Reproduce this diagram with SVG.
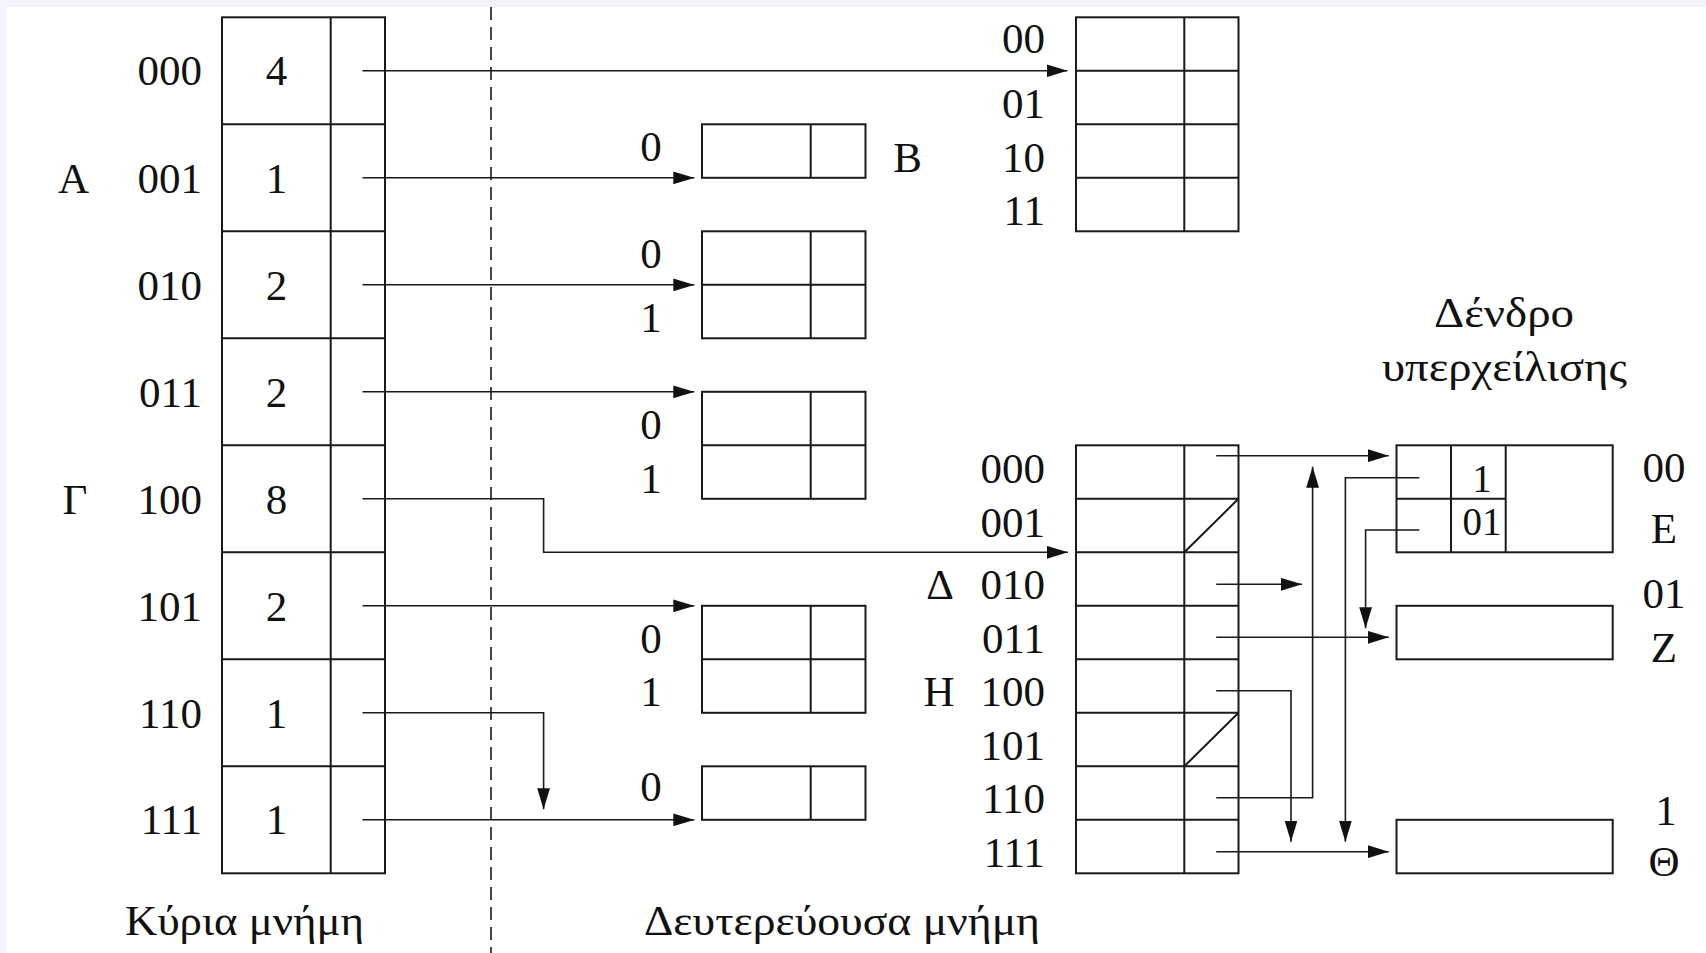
<svg xmlns="http://www.w3.org/2000/svg" width="1706" height="953" viewBox="0 0 1706 953">
  <style>
    .box { fill: none; stroke: #1a1a1a; stroke-width: 2; }
    .ln { fill: none; stroke: #1a1a1a; stroke-width: 2; }
    .wire { fill: none; stroke: #1a1a1a; stroke-width: 1.6; }
    .arr { marker-end: url(#head); }
    .t { font-family: "Liberation Serif", "Times New Roman", serif; font-size: 43px; fill: #111; }
    .s { font-size: 39px; }
    .r { text-anchor: end; }
    .m { text-anchor: middle; }
  </style>
  <defs>
    <marker id="head" markerUnits="userSpaceOnUse" markerWidth="21" markerHeight="13" refX="21" refY="6.4" orient="auto">
      <path d="M0,0 L21,6.4 L0,12.8 z" fill="#111"/>
    </marker>
  </defs>

  <!-- page -->
  <rect x="0" y="0" width="1706" height="953" fill="#f3f3fd"/>
  <rect x="6" y="7" width="1700" height="946" fill="#ffffff"/>

  <!-- memory boundary -->
  <line x1="491" y1="7" x2="491" y2="953" stroke="#1a1a1a" stroke-width="1.6" stroke-dasharray="13 7"/>

  <!-- directory in main memory -->
  <g id="directory">
    <rect class="box" x="222" y="17.3" width="163" height="856"/>
    <line class="ln" x1="330.7" y1="17.3" x2="330.7" y2="873.3"/>
    <path class="ln" d="M222 124.3H385M222 231.3H385M222 338.3H385M222 445.3H385M222 552.3H385M222 659.3H385M222 766.3H385"/>
    <g class="t r">
      <text x="202" y="85">000</text>
      <text x="202" y="192.5">001</text>
      <text x="202" y="299.5">010</text>
      <text x="202" y="406.5">011</text>
      <text x="202" y="513.5">100</text>
      <text x="202" y="620.5">101</text>
      <text x="202" y="727.5">110</text>
      <text x="202" y="834">111</text>
    </g>
    <g class="t m">
      <text x="276.4" y="85">4</text>
      <text x="276.4" y="192.5">1</text>
      <text x="276.4" y="299.5">2</text>
      <text x="276.4" y="406.5">2</text>
      <text x="276.4" y="513.5">8</text>
      <text x="276.4" y="620.5">2</text>
      <text x="276.4" y="727.5">1</text>
      <text x="276.4" y="834">1</text>
      <text x="73.5" y="192.5">Α</text>
      <text x="75" y="513.5">Γ</text>
    </g>
    <text class="t" x="125" y="935" textLength="239" lengthAdjust="spacingAndGlyphs">Κύρια μνήμη</text>
  </g>

  <!-- bucket B -->
  <g id="bucket-b">
    <rect class="box" x="702" y="124.3" width="163.5" height="53.5"/>
    <line class="ln" x1="810.7" y1="124.3" x2="810.7" y2="177.8"/>
    <text class="t m" x="651" y="160.7">0</text>
    <text class="t m" x="907.5" y="172">Β</text>
  </g>

  <!-- bucket 010 -->
  <g id="bucket-010">
    <rect class="box" x="702" y="231.3" width="163.5" height="107"/>
    <path class="ln" d="M810.7 231.3V338.3M702 284.8H865.5"/>
    <text class="t m" x="651" y="268">0</text>
    <text class="t m" x="651" y="332">1</text>
  </g>

  <!-- bucket 011 -->
  <g id="bucket-011">
    <rect class="box" x="702" y="391.8" width="163.5" height="107"/>
    <path class="ln" d="M810.7 391.8V498.8M702 445.3H865.5"/>
    <text class="t m" x="651" y="438.5">0</text>
    <text class="t m" x="651" y="492.5">1</text>
  </g>

  <!-- bucket 101 -->
  <g id="bucket-101">
    <rect class="box" x="702" y="605.8" width="163.5" height="107"/>
    <path class="ln" d="M810.7 605.8V712.8M702 659.3H865.5"/>
    <text class="t m" x="651" y="652.5">0</text>
    <text class="t m" x="651" y="706">1</text>
  </g>

  <!-- bucket 11x -->
  <g id="bucket-11x">
    <rect class="box" x="702" y="766.3" width="163.5" height="53.5"/>
    <line class="ln" x1="810.7" y1="766.3" x2="810.7" y2="819.8"/>
    <text class="t m" x="651" y="800.5">0</text>
  </g>

  <!-- bucket A (four slots) -->
  <g id="bucket-a">
    <rect class="box" x="1076" y="17.3" width="162.5" height="214"/>
    <path class="ln" d="M1184.3 17.3V231.3M1076 70.8H1238.5M1076 124.3H1238.5M1076 177.8H1238.5"/>
    <g class="t r">
      <text x="1045" y="53.3">00</text>
      <text x="1045" y="118.3">01</text>
      <text x="1045" y="171.7">10</text>
      <text x="1045" y="225">11</text>
    </g>
  </g>

  <!-- bucket Γ (eight slots) -->
  <g id="bucket-g">
    <rect class="box" x="1076" y="445.3" width="162.5" height="428"/>
    <path class="ln" d="M1184.3 445.3V873.3M1076 498.8H1238.5M1076 552.3H1238.5M1076 605.8H1238.5M1076 659.3H1238.5M1076 712.8H1238.5M1076 766.3H1238.5M1076 819.8H1238.5"/>
    <path class="ln" d="M1184.3 552.3L1238.5 498.8M1184.3 766.3L1238.5 712.8"/>
    <g class="t r">
      <text x="1045" y="482.5">000</text>
      <text x="1045" y="536.5">001</text>
      <text x="1045" y="599">010</text>
      <text x="1045" y="653">011</text>
      <text x="1045" y="706">100</text>
      <text x="1045" y="760">101</text>
      <text x="1045" y="813">110</text>
      <text x="1045" y="866.7">111</text>
    </g>
    <text class="t m" x="940" y="599">Δ</text>
    <text class="t m" x="939" y="706">Η</text>
    <text class="t" x="644" y="935" textLength="396" lengthAdjust="spacingAndGlyphs">Δευτερεύουσα μνήμη</text>
  </g>

  <!-- overflow tree -->
  <g id="overflow-e">
    <rect class="box" x="1396.5" y="445.3" width="216.2" height="107"/>
    <path class="ln" d="M1451 445.3V552.3M1505.7 445.3V552.3M1396.5 498.8H1505.7"/>
    <text class="t s m" x="1482" y="491.7">1</text>
    <text class="t s m" x="1482" y="535">01</text>
    <text class="t m" x="1664" y="481.7">00</text>
    <text class="t m" x="1664" y="543.3">Ε</text>
  </g>
  <g id="overflow-z">
    <rect class="box" x="1396.5" y="605.8" width="216.2" height="53.5"/>
    <text class="t m" x="1664" y="608.3">01</text>
    <text class="t m" x="1664" y="661.7">Ζ</text>
  </g>
  <g id="overflow-th">
    <rect class="box" x="1396.5" y="819.8" width="216.2" height="53.5"/>
    <text class="t m" x="1666" y="825">1</text>
    <text class="t m" x="1664" y="876">Θ</text>
  </g>
  <g id="overflow-title">
    <text class="t" x="1434" y="327" textLength="140" lengthAdjust="spacingAndGlyphs">Δένδρο</text>
    <text class="t" x="1382" y="381" textLength="245" lengthAdjust="spacingAndGlyphs">υπερχείλισης</text>
  </g>

  <!-- pointers -->
  <g id="connectors">
    <path class="wire arr" d="M362.5 70.8H1067.5"/>
    <path class="wire arr" d="M362.5 177.8H694.3"/>
    <path class="wire arr" d="M362.5 284.8H694.3"/>
    <path class="wire arr" d="M362.5 391.8H694.3"/>
    <path class="wire arr" d="M362.5 498.8H543.6V552.3H1068"/>
    <path class="wire arr" d="M362.5 605.8H694.3"/>
    <path class="wire arr" d="M362.5 712.8H543.6V809.3"/>
    <path class="wire arr" d="M362.5 819.8H694.3"/>

    <path class="wire arr" d="M1216.2 455.7H1388.8"/>
    <path class="wire arr" d="M1216.2 584.3H1302"/>
    <path class="wire arr" d="M1216.2 637.3H1388.8"/>
    <path class="wire arr" d="M1216.2 690.7H1291V841.7"/>
    <path class="wire arr" d="M1216.2 797.7H1312.6V466.7"/>
    <path class="wire arr" d="M1216.2 851.7H1388.8"/>
    <path class="wire arr" d="M1419.3 477.7H1345.4V841.7"/>
    <path class="wire arr" d="M1419.3 530H1365.6V628.3"/>
  </g>
</svg>
